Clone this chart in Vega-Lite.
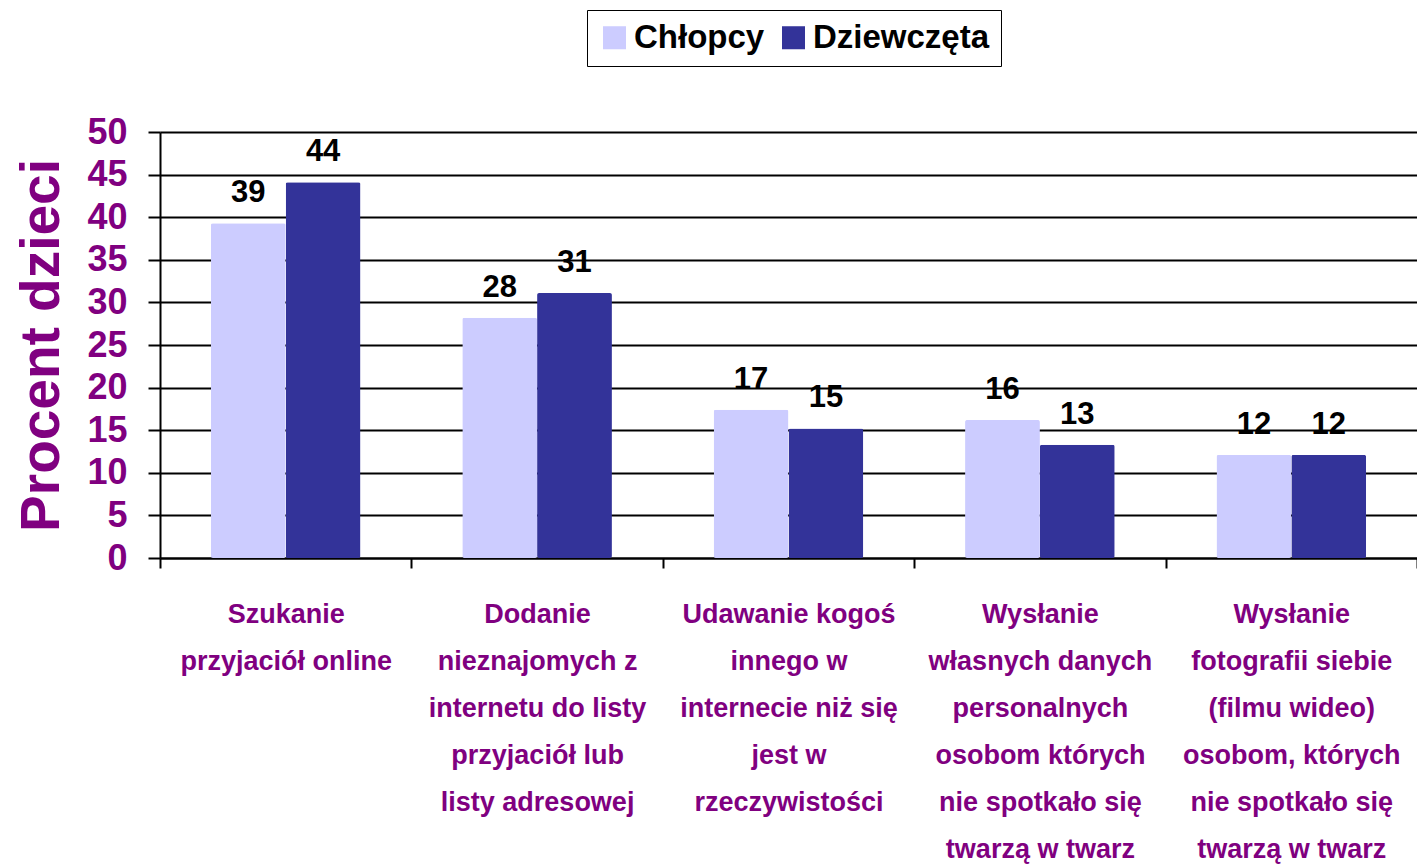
{
  "$schema": "https://vega.github.io/schema/vega-lite/v6.json",
  "width": 1257,
  "height": 426,
  "autosize": {"type": "none"},
  "padding": {"left": 160, "top": 132, "right": 0, "bottom": 309},
  "background": "white",
  "config": {
    "view": {"stroke": null},
    "font": "Liberation Sans"
  },
  "data": {
    "values": [
      {"kat": "Szukanie|przyjaciół online", "plec": "Chłopcy", "procent": 39.3},
      {"kat": "Szukanie|przyjaciół online", "plec": "Dziewczęta", "procent": 44.1},
      {"kat": "Dodanie|nieznajomych z|internetu do listy|przyjaciół lub|listy adresowej", "plec": "Chłopcy", "procent": 28.2},
      {"kat": "Dodanie|nieznajomych z|internetu do listy|przyjaciół lub|listy adresowej", "plec": "Dziewczęta", "procent": 31.1},
      {"kat": "Udawanie kogoś|innego w|internecie niż się|jest w|rzeczywistości", "plec": "Chłopcy", "procent": 17.4},
      {"kat": "Udawanie kogoś|innego w|internecie niż się|jest w|rzeczywistości", "plec": "Dziewczęta", "procent": 15.2},
      {"kat": "Wysłanie|własnych danych|personalnych|osobom których|nie spotkało się|twarzą w twarz", "plec": "Chłopcy", "procent": 16.2},
      {"kat": "Wysłanie|własnych danych|personalnych|osobom których|nie spotkało się|twarzą w twarz", "plec": "Dziewczęta", "procent": 13.3},
      {"kat": "Wysłanie|fotografii siebie|(filmu wideo)|osobom, których|nie spotkało się|twarzą w twarz", "plec": "Chłopcy", "procent": 12.1},
      {"kat": "Wysłanie|fotografii siebie|(filmu wideo)|osobom, których|nie spotkało się|twarzą w twarz", "plec": "Dziewczęta", "procent": 12.1}
    ]
  },
  "encoding": {
    "x": {
      "field": "kat",
      "type": "nominal",
      "sort": null,
      "scale": {"paddingInner": 0, "paddingOuter": 0},
      "axis": {
        "title": null,
        "labelExpr": "split(datum.label, '|')",
        "labelAngle": 0,
        "labelFont": "Liberation Sans",
        "labelFontSize": 27,
        "labelFontWeight": "bold",
        "labelColor": "#800080",
        "labelLineHeight": 47,
        "labelBaseline": "top",
        "labelPadding": 33,
        "labelLimit": 0,
        "labelOverlap": false,
        "labelBound": false,
        "domainColor": "black",
        "domainWidth": 2,
        "tickColor": "black",
        "tickWidth": 2,
        "tickSize": 10,
        "tickBand": "extent",
        "grid": false
      }
    },
    "xOffset": {
      "field": "plec",
      "type": "nominal",
      "sort": ["Chłopcy", "Dziewczęta"],
      "scale": {"paddingInner": 0, "paddingOuter": 0.68}
    },
    "y": {
      "field": "procent",
      "type": "quantitative",
      "scale": {"domain": [0, 50], "nice": false},
      "axis": {
        "title": "Procent dzieci",
        "titleFont": "Liberation Sans",
        "titleFontSize": 55,
        "titleFontWeight": "bold",
        "titleColor": "#800080",
        "titleAngle": 270,
        "titleBaseline": "alphabetic",
        "titleX": -102,
        "titleY": 213,
        "titleAlign": "center",
        "values": [0, 5, 10, 15, 20, 25, 30, 35, 40, 45, 50],
        "labelFont": "Liberation Sans",
        "labelFontSize": 36,
        "labelFontWeight": "bold",
        "labelColor": "#800080",
        "labelPadding": 21,
        "domainColor": "black",
        "domainWidth": 2,
        "tickColor": "black",
        "tickWidth": 2,
        "tickSize": 12,
        "grid": true,
        "gridColor": "black",
        "gridWidth": 2,
        "gridOpacity": 1
      }
    }
  },
  "layer": [
    {
      "mark": {"type": "bar", "cornerRadius": 2},
      "encoding": {
        "color": {
          "field": "plec",
          "type": "nominal",
          "scale": {"domain": ["Chłopcy", "Dziewczęta"], "range": ["#CCCCFF", "#333399"]},
          "legend": {
            "title": null,
            "orient": "none",
            "legendX": 427,
            "legendY": -122,
            "direction": "horizontal",
            "strokeColor": "black",
            "fillColor": "white",
            "padding": 11,
            "symbolType": "square",
            "symbolSize": 530,
            "symbolStrokeWidth": 0,
            "symbolOpacity": 1,
            "labelFont": "Liberation Sans",
            "labelFontSize": 33,
            "labelFontWeight": "bold",
            "labelColor": "black",
            "labelOffset": 3,
            "labelLimit": 0,
            "columnPadding": 12
          }
        }
      }
    },
    {
      "mark": {
        "type": "text",
        "baseline": "alphabetic",
        "align": "center",
        "dy": -21,
        "font": "Liberation Sans",
        "fontSize": 31,
        "fontWeight": "bold",
        "color": "black"
      },
      "encoding": {
        "text": {"field": "procent", "type": "quantitative", "format": ".0f"}
      }
    }
  ]
}
